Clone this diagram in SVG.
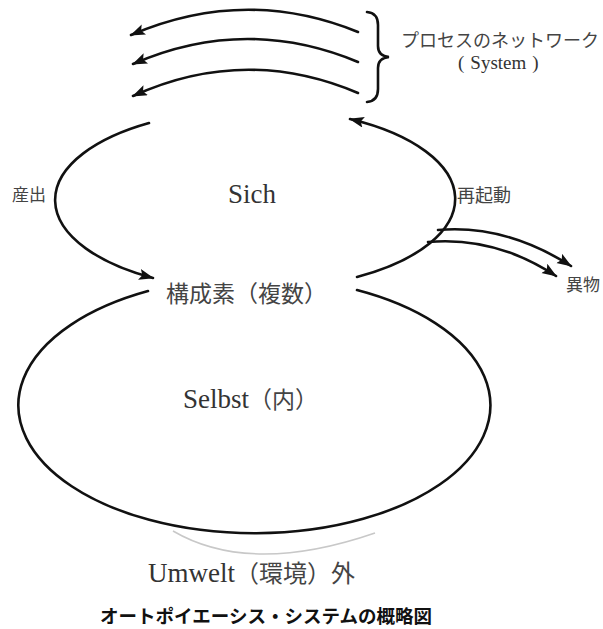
<svg xmlns="http://www.w3.org/2000/svg" width="603" height="629" viewBox="0 0 603 629">
<style>
.ln{fill:none;stroke:#111;stroke-width:2.6;stroke-linecap:round}
.lat{font-family:"Liberation Serif","Noto Sans CJK JP",serif;fill:#333}
.cjk{font-family:"Noto Sans CJK JP","Liberation Serif",sans-serif;fill:#444}
.ttl{font-family:"Noto Sans CJK JP","Liberation Sans",sans-serif;font-weight:bold;fill:#111}
</style>
<defs>
<marker id="ah" markerUnits="userSpaceOnUse" markerWidth="16" markerHeight="12" refX="14" refY="5.5" orient="auto">
<path d="M0,0 L15,5.5 L0,11 L3,5.5 z" fill="#111"/>
</marker>
</defs>
<rect width="603" height="629" fill="#fff"/>
<g id="connectors">
<path class="ln" d="M358,32 Q245,-14 131,35" marker-end="url(#ah)"/>
<path class="ln" d="M358,62 Q245,15 133,64" marker-end="url(#ah)"/>
<path class="ln" d="M358,93 Q245,45 133,96" marker-end="url(#ah)"/>
<path class="ln" d="M149,123 A195,90 0 0 0 153,278" marker-end="url(#ah)"/>
<path class="ln" d="M357,277 A195,90 0 0 0 350,119" marker-end="url(#ah)"/>
<path class="ln" d="M438,230 Q505,224 571,266" marker-end="url(#ah)"/>
<path class="ln" d="M428,242 Q495,236 556,276" marker-end="url(#ah)"/>
</g>
<g id="brace">
<path class="ln" stroke-width="2.2" d="M367,12 Q378,13 378,25 L378,46 Q378,56 389,57 Q378,58 378,68 L378,89 Q378,101 367,102"/>
</g>
<g id="selbst">
<path class="ln" d="M357,290 A236,128 0 1 1 148,291"/>
<text class="lat" x="183" y="408" font-size="27">Selbst<tspan class="cjk" font-size="23">（内）</tspan></text>
</g>
<g id="sich">
<text class="lat" x="252" y="203" font-size="27" text-anchor="middle">Sich</text>
</g>
<g id="koseiso">
<text class="cjk" x="166" y="302" font-size="23">構成素（複数）</text>
</g>
<g id="umwelt">
<path fill="none" stroke="#c8c8c8" stroke-width="1.5" d="M173,531 Q250,576 375,533"/>
<text class="lat" x="148" y="582" font-size="27">Umwelt<tspan class="cjk" font-size="24">（環境）外</tspan></text>
</g>
<g id="labels">
<text class="cjk" x="12" y="201" font-size="17">産出</text>
<text class="cjk" x="457" y="202" font-size="18">再起動</text>
<text class="cjk" x="566" y="291" font-size="17">異物</text>
<text class="cjk" x="401" y="47" font-size="18">プロセスのネットワーク</text>
<text class="lat" x="458" y="69" font-size="19">(<tspan dx="6">System</tspan><tspan dx="6">)</tspan></text>
</g>
<g id="title">
<text class="ttl" x="100" y="623" font-size="18.5">オートポイエーシス・システムの概略図</text>
</g>
</svg>
